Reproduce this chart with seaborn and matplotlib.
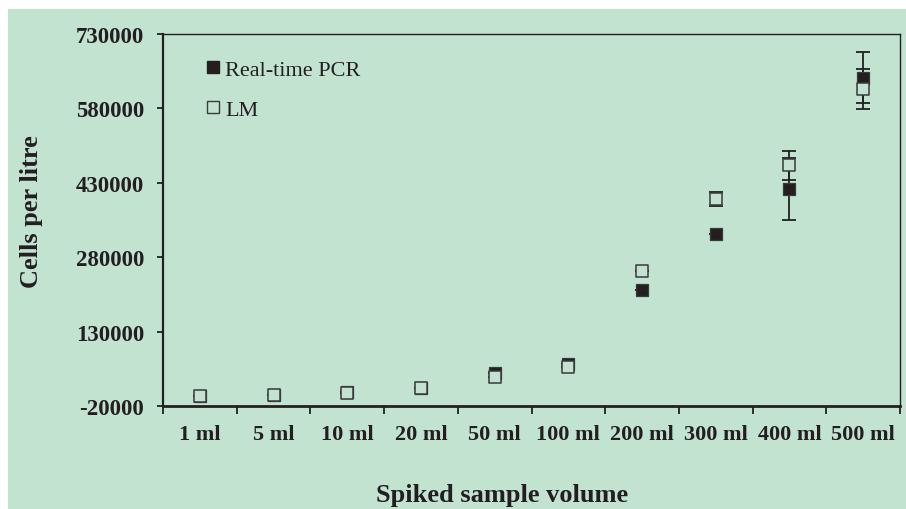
import matplotlib
matplotlib.use("Agg")
import matplotlib.pyplot as plt
from matplotlib.lines import Line2D
from matplotlib.patches import Rectangle
import numpy as np
import pandas as pd
import seaborn as sns

# Spiked sample volumes and measured cell concentrations
volumes = ["1 ml", "5 ml", "10 ml", "20 ml", "50 ml", "100 ml", "200 ml", "300 ml", "400 ml", "500 ml"]
pcr_cells = [500, 2500, 8000, 17000, 46000, 64000, 213000, 327000, 418000, 642000]
pcr_err = [0, 0, 0, 0, 0, 0, 0, 0, 62000, 51000]
lm_cells = [0, 2200, 5600, 16900, 37800, 58600, 252600, 397000, 465000, 619000]
lm_err = [0, 0, 0, 0, 0, 0, 0, 14000, 30000, 41000]
y_ticks = [-20000, 130000, 280000, 430000, 580000, 730000]

BG = "#C3E3D1"
INK = "#231F20"

sns.set_theme(style="white")
plt.rcParams["font.family"] = ["Liberation Serif", "DejaVu Serif"]

fig = plt.figure(figsize=(9.06, 5.10), dpi=100, facecolor="white")
fig.patches.append(Rectangle((8 / 906, 0), 1 - 8 / 906, 500 / 510,
                             transform=fig.transFigure, facecolor=BG,
                             edgecolor="none", zorder=-10))

ax = fig.add_axes([163 / 906, 1 - 407 / 510, (900 - 163) / 906, (407 - 35) / 510])
ax.set_facecolor(BG)

pos = np.arange(len(volumes))
df = pd.DataFrame({"pos": pos, "pcr": pcr_cells, "lm": lm_cells})

# error bars underneath the markers
ax.errorbar(pos, pcr_cells, yerr=pcr_err, fmt="none", ecolor=INK,
            elinewidth=1.3, capsize=5, capthick=1.3, zorder=2)
ax.errorbar(pos, lm_cells, yerr=lm_err, fmt="none", ecolor=INK,
            elinewidth=1.3, capsize=5, capthick=1.3, zorder=2)

sns.scatterplot(data=df, x="pos", y="pcr", marker="s", s=74, color=INK,
                edgecolor="#3a3a3a", linewidth=0.9, ax=ax, zorder=3, legend=False)
sns.scatterplot(data=df, x="pos", y="lm", marker="s", s=74, color=BG,
                edgecolor="#3a3a3a", linewidth=1.1, ax=ax, zorder=4, legend=False)

ax.set_xlim(-0.5, len(volumes) - 0.5)
ax.set_ylim(-20000, 730000)

# category boundaries carry the tick marks, labels sit at the centres
ax.set_xticks(np.arange(-0.5, len(volumes), 1.0))
ax.set_xticklabels([])
ax.set_xticks(pos, minor=True)
ax.set_xticklabels(volumes, minor=True, fontsize=16, fontweight="bold", color=INK)
ax.tick_params(axis="x", which="major", direction="out", length=6, width=1.3,
               color=INK, bottom=True)
ax.tick_params(axis="x", which="minor", length=0, pad=13)

ax.set_yticks(y_ticks)
ax.set_yticklabels([str(v) for v in y_ticks], fontsize=16.5, fontweight="bold", color=INK)
ax.tick_params(axis="y", direction="out", length=4.5, width=1.3, color=INK,
               left=True, pad=9)

for side, lw in (("left", 1.6), ("bottom", 2.0), ("top", 1.0), ("right", 1.0)):
    ax.spines[side].set_visible(True)
    ax.spines[side].set_color(INK)
    ax.spines[side].set_linewidth(lw)

ax.set_xlabel("")
ax.set_ylabel("")
fig.text(502 / 906, 1 - 496 / 510, "Spiked sample volume", ha="center", va="center",
         fontsize=19, fontweight="bold", color=INK)
fig.text(32 / 906, 1 - 212 / 510, "Cells per litre", ha="center", va="center",
         rotation=90, fontsize=19, fontweight="bold", color=INK)

handles = [
    Line2D([], [], linestyle="none", marker="s", markersize=8,
           markerfacecolor=INK, markeredgecolor=INK, label="Real-time PCR"),
    Line2D([], [], linestyle="none", marker="s", markersize=8,
           markerfacecolor=BG, markeredgecolor="#3a3a3a", markeredgewidth=1.0, label="LM"),
]
ax.legend(handles=handles, loc="upper left",
          bbox_to_anchor=((205 - 163) / 737, 1 - (60 - 35) / 372),
          frameon=False, fontsize=16, handlelength=0.75, handletextpad=0.15,
          borderpad=0, borderaxespad=0, labelspacing=0.88, labelcolor=INK)

fig.savefig("out.png", dpi=100, facecolor=fig.get_facecolor())
